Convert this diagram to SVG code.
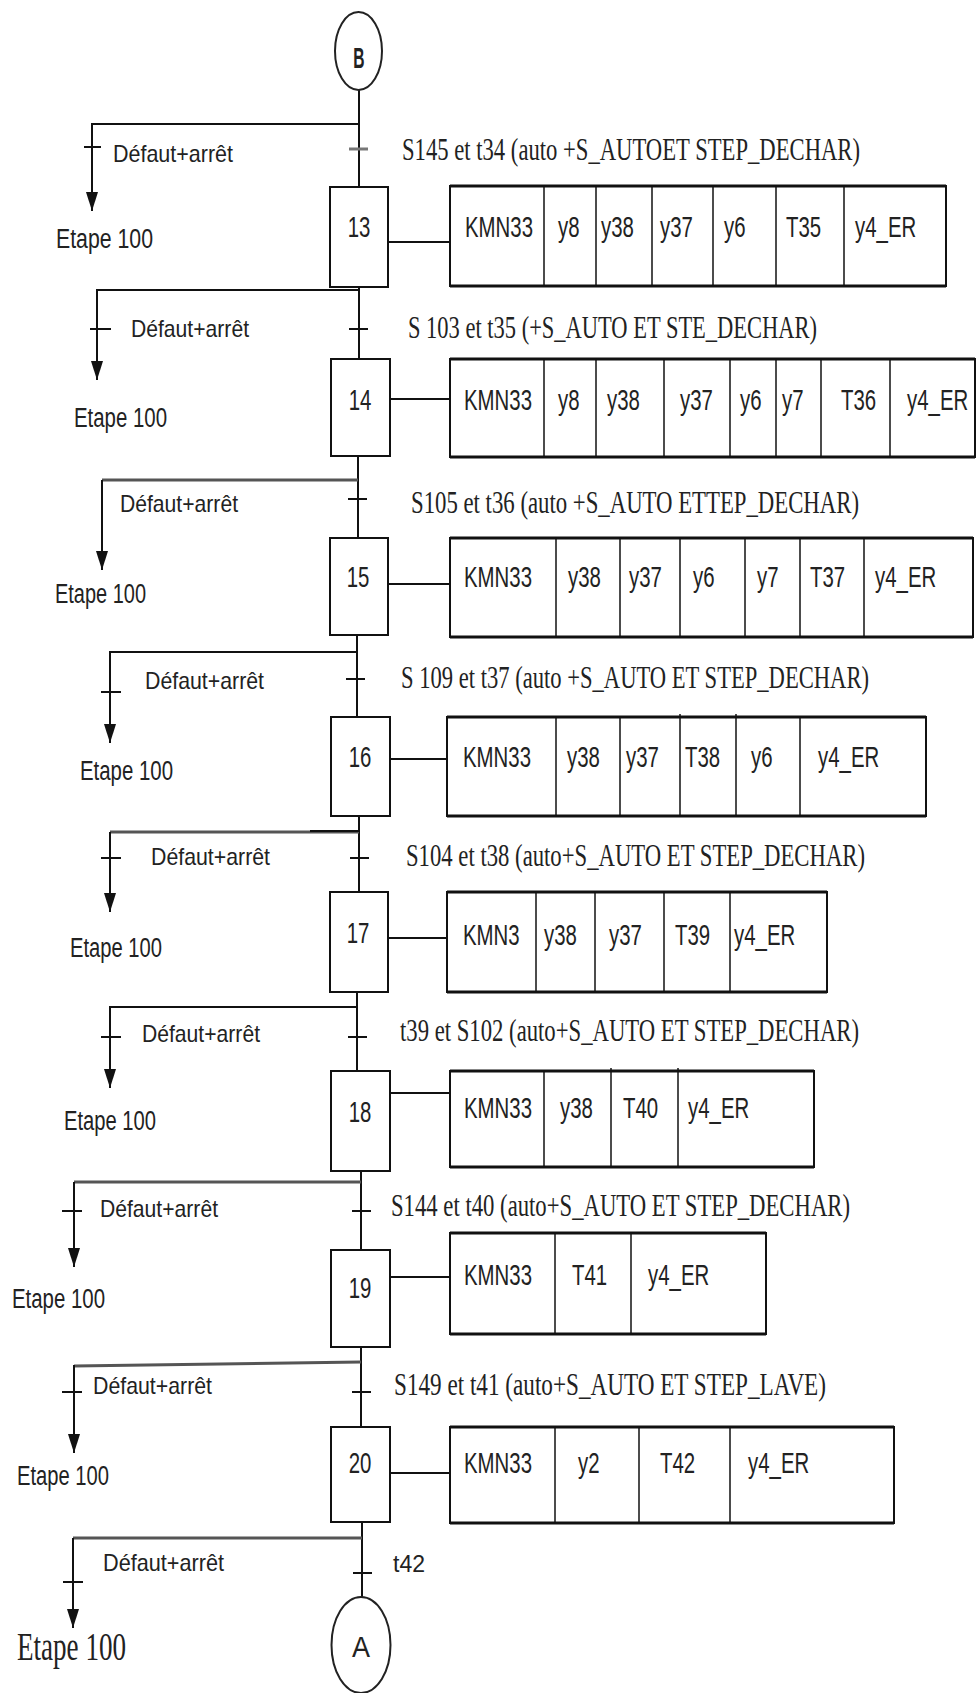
<svg xmlns="http://www.w3.org/2000/svg" width="977" height="1693" viewBox="0 0 977 1693">
<style>
.bg{fill:#fff}
.ln{stroke:#111;stroke-width:2;fill:none}
.gl{stroke:#555;stroke-width:3;fill:none}
.tk{stroke:#111;stroke-width:2}
.box{fill:#fff;stroke:#111;stroke-width:2}
.tb{fill:#fff;stroke:#111;stroke-width:2}
.tbh{stroke:#111;stroke-width:3}
.dv{stroke:#111;stroke-width:1.5}
.lbl{font-family:"Liberation Sans",Arial,sans-serif;font-size:30px;fill:#222}
.num{font-family:"Liberation Sans",Arial,sans-serif;font-size:30px;fill:#222;text-anchor:middle}
.df{font-family:"Liberation Sans",Arial,sans-serif;font-size:24px;fill:#222}
.et{font-family:"Liberation Sans",Arial,sans-serif;font-size:27px;fill:#222}
.cd{font-family:"Liberation Serif","Times New Roman",serif;font-size:24px;fill:#222}
.etS{font-family:"Liberation Serif","Times New Roman",serif;font-size:40px;fill:#222}
.cir{fill:#fff;stroke:#222;stroke-width:2}
</style>
<defs>
<marker id="arr" markerUnits="userSpaceOnUse" markerWidth="20" markerHeight="12" refX="19" refY="6" orient="auto" viewBox="0 0 20 12">
<path d="M0,0 L19,6 L0,12 Z" fill="#111"/>
</marker>
</defs>
<rect class="bg" x="0" y="0" width="977" height="1693"/>

<g id="connectors">
<line class="ln" x1="359" y1="90" x2="359" y2="187"/>
<line class="ln" x1="359" y1="287" x2="359" y2="359"/>
<line class="ln" x1="358" y1="456" x2="358" y2="538"/>
<line class="ln" x1="357" y1="635" x2="357" y2="717"/>
<line class="ln" x1="359" y1="816" x2="359" y2="892"/>
<line class="ln" x1="357" y1="992" x2="357" y2="1071"/>
<line class="ln" x1="361" y1="1171" x2="361" y2="1250"/>
<line class="ln" x1="361" y1="1347" x2="361" y2="1427"/>
<line class="ln" x1="362" y1="1522" x2="362" y2="1597"/>
<line stroke="#777" stroke-width="3" x1="349" y1="149" x2="368" y2="149"/>
<line class="tk" x1="349" y1="329" x2="368" y2="329"/>
<line class="tk" x1="348" y1="499" x2="367" y2="499"/>
<line class="tk" x1="346" y1="679" x2="365" y2="679"/>
<line class="tk" x1="350" y1="858" x2="369" y2="858"/>
<line class="tk" x1="348" y1="1037" x2="367" y2="1037"/>
<line class="tk" x1="352" y1="1211" x2="371" y2="1211"/>
<line class="tk" x1="352" y1="1392" x2="371" y2="1392"/>
<line class="tk" x1="353" y1="1573" x2="372" y2="1573"/>
<line class="ln" x1="388" y1="242" x2="450" y2="242"/>
<line class="ln" x1="390" y1="399" x2="450" y2="399"/>
<line class="ln" x1="388" y1="584" x2="450" y2="584"/>
<line class="ln" x1="390" y1="759" x2="447" y2="759"/>
<line class="ln" x1="388" y1="938" x2="447" y2="938"/>
<line class="ln" x1="390" y1="1093" x2="450" y2="1093"/>
<line class="ln" x1="390" y1="1277" x2="450" y2="1277"/>
<line class="ln" x1="390" y1="1473" x2="450" y2="1473"/>
<path class="ln" d="M359,124 H92 V211" marker-end="url(#arr)"/>
<line class="tk" x1="84" y1="147" x2="101" y2="147"/>
<path class="ln" stroke-width="3" d="M359,290 H97 V380" marker-end="url(#arr)"/>
<line class="tk" x1="90" y1="329" x2="111" y2="329"/>
<path class="gl" d="M358,480 H102"/>
<path class="ln" d="M102,480 V570" marker-end="url(#arr)"/>
<path class="ln" stroke-width="3" d="M357,652 H110 V743" marker-end="url(#arr)"/>
<line class="tk" x1="101" y1="692" x2="121" y2="692"/>
<path class="gl" d="M359,832 H110"/>
<path class="ln" d="M310,831 H359"/>
<path class="ln" d="M110,832 V912" marker-end="url(#arr)"/>
<line class="tk" x1="101" y1="858" x2="121" y2="858"/>
<path class="ln" stroke-width="3" d="M357,1007 H110 V1088" marker-end="url(#arr)"/>
<line class="tk" x1="101" y1="1037" x2="121" y2="1037"/>
<path class="gl" stroke-width="4" d="M361,1182 H74"/>
<path class="ln" d="M74,1182 V1267" marker-end="url(#arr)"/>
<line class="tk" x1="62" y1="1211" x2="82" y2="1211"/>
<path class="gl" d="M361,1362 L74,1366"/>
<path class="ln" d="M74,1365 V1453" marker-end="url(#arr)"/>
<line class="tk" x1="62" y1="1392" x2="82" y2="1392"/>
<path class="gl" d="M362,1538 H73"/>
<path class="ln" d="M73,1538 V1628" marker-end="url(#arr)"/>
<line class="tk" x1="63" y1="1582" x2="83" y2="1582"/>
</g>

<g id="circleB">
<ellipse class="cir" cx="358.5" cy="51" rx="23.5" ry="39"/>
<text class="num" font-weight="bold" transform="translate(359 68) scale(0.52 1)">B</text>
</g>

<g id="circleA">
<ellipse class="cir" cx="361" cy="1645" rx="29.5" ry="48"/>
<text class="num" font-size="26" transform="translate(361 1657) scale(0.9 1)">A</text>
</g>

<g id="labels">
<text class="cd" transform="translate(402 160) scale(1 1.333)" textLength="458" lengthAdjust="spacingAndGlyphs">S145 et t34 (auto +S_AUTOET STEP_DECHAR)</text>
<text class="cd" transform="translate(408 338) scale(1 1.333)" textLength="409" lengthAdjust="spacingAndGlyphs">S 103 et t35 (+S_AUTO ET STE_DECHAR)</text>
<text class="cd" transform="translate(411 513) scale(1 1.333)" textLength="448" lengthAdjust="spacingAndGlyphs">S105 et t36 (auto +S_AUTO ETTEP_DECHAR)</text>
<text class="cd" transform="translate(401 688) scale(1 1.333)" textLength="468" lengthAdjust="spacingAndGlyphs">S 109 et t37 (auto +S_AUTO ET STEP_DECHAR)</text>
<text class="cd" transform="translate(406 866) scale(1 1.333)" textLength="459" lengthAdjust="spacingAndGlyphs">S104 et t38 (auto+S_AUTO ET STEP_DECHAR)</text>
<text class="cd" transform="translate(400 1041) scale(1 1.333)" textLength="459" lengthAdjust="spacingAndGlyphs">t39 et S102 (auto+S_AUTO ET STEP_DECHAR)</text>
<text class="cd" transform="translate(391 1216) scale(1 1.333)" textLength="459" lengthAdjust="spacingAndGlyphs">S144 et t40 (auto+S_AUTO ET STEP_DECHAR)</text>
<text class="cd" transform="translate(394 1395) scale(1 1.333)" textLength="432" lengthAdjust="spacingAndGlyphs">S149 et t41 (auto+S_AUTO ET STEP_LAVE)</text>
<text class="df" x="393" y="1572" font-size="21" textLength="32" lengthAdjust="spacingAndGlyphs">t42</text>

<text class="df" x="113" y="162" textLength="120" lengthAdjust="spacingAndGlyphs">Défaut+arrêt</text>
<text class="df" x="131" y="337" textLength="118" lengthAdjust="spacingAndGlyphs">Défaut+arrêt</text>
<text class="df" x="120" y="512" textLength="118" lengthAdjust="spacingAndGlyphs">Défaut+arrêt</text>
<text class="df" x="145" y="689" textLength="119" lengthAdjust="spacingAndGlyphs">Défaut+arrêt</text>
<text class="df" x="151" y="865" textLength="119" lengthAdjust="spacingAndGlyphs">Défaut+arrêt</text>
<text class="df" x="142" y="1042" textLength="118" lengthAdjust="spacingAndGlyphs">Défaut+arrêt</text>
<text class="df" x="100" y="1217" textLength="118" lengthAdjust="spacingAndGlyphs">Défaut+arrêt</text>
<text class="df" x="93" y="1394" textLength="119" lengthAdjust="spacingAndGlyphs">Défaut+arrêt</text>
<text class="df" x="103" y="1571" textLength="121" lengthAdjust="spacingAndGlyphs">Défaut+arrêt</text>

<text class="et" x="56" y="248" textLength="97" lengthAdjust="spacingAndGlyphs">Etape 100</text>
<text class="et" x="74" y="427" textLength="93" lengthAdjust="spacingAndGlyphs">Etape 100</text>
<text class="et" x="55" y="603" textLength="91" lengthAdjust="spacingAndGlyphs">Etape 100</text>
<text class="et" x="80" y="780" textLength="93" lengthAdjust="spacingAndGlyphs">Etape 100</text>
<text class="et" x="70" y="957" textLength="92" lengthAdjust="spacingAndGlyphs">Etape 100</text>
<text class="et" x="64" y="1130" textLength="92" lengthAdjust="spacingAndGlyphs">Etape 100</text>
<text class="et" x="12" y="1308" textLength="93" lengthAdjust="spacingAndGlyphs">Etape 100</text>
<text class="et" x="17" y="1485" textLength="92" lengthAdjust="spacingAndGlyphs">Etape 100</text>
<text class="etS" x="17" y="1660" textLength="109" lengthAdjust="spacingAndGlyphs">Etape 100</text>
</g>

<g id="step13">
<rect class="box" x="330" y="187" width="58" height="100"/>
<text class="num" transform="translate(359 237) scale(0.68 1)">13</text>
</g>
<g id="actions13">
<rect class="tb" x="450" y="186" width="496" height="100"/>
<line class="tbh" x1="450" y1="186" x2="946" y2="186"/><line class="tbh" x1="450" y1="286" x2="946" y2="286"/>
<line class="dv" x1="544" y1="186" x2="544" y2="286"/><line class="dv" x1="596" y1="186" x2="596" y2="286"/><line class="dv" x1="652" y1="186" x2="652" y2="286"/><line class="dv" x1="713" y1="186" x2="713" y2="286"/><line class="dv" x1="776" y1="186" x2="776" y2="286"/><line class="dv" x1="844" y1="186" x2="844" y2="286"/>
<text class="lbl" transform="translate(465 237) scale(0.68 1)">KMN33</text>
<text class="lbl" transform="translate(558 237) scale(0.68 1)">y8</text>
<text class="lbl" transform="translate(601 237) scale(0.68 1)">y38</text>
<text class="lbl" transform="translate(660 237) scale(0.68 1)">y37</text>
<text class="lbl" transform="translate(724 237) scale(0.68 1)">y6</text>
<text class="lbl" transform="translate(786 237) scale(0.68 1)">T35</text>
<text class="lbl" transform="translate(855 237) scale(0.68 1)">y4_ER</text>
</g>

<g id="step14">
<rect class="box" x="331" y="359" width="59" height="97"/>
<text class="num" transform="translate(360 410) scale(0.68 1)">14</text>
</g>
<g id="actions14">
<rect class="tb" x="450" y="359" width="525" height="98"/>
<line class="tbh" x1="450" y1="359" x2="975" y2="359"/><line class="tbh" x1="450" y1="457" x2="975" y2="457"/>
<line class="dv" x1="544" y1="359" x2="544" y2="457"/><line class="dv" x1="596" y1="359" x2="596" y2="457"/><line class="dv" x1="664" y1="359" x2="664" y2="457"/><line class="dv" x1="730" y1="359" x2="730" y2="457"/><line class="dv" x1="776" y1="359" x2="776" y2="457"/><line class="dv" x1="821" y1="359" x2="821" y2="457"/><line class="dv" x1="890" y1="359" x2="890" y2="457"/>
<text class="lbl" transform="translate(464 410) scale(0.68 1)">KMN33</text>
<text class="lbl" transform="translate(558 410) scale(0.68 1)">y8</text>
<text class="lbl" transform="translate(607 410) scale(0.68 1)">y38</text>
<text class="lbl" transform="translate(680 410) scale(0.68 1)">y37</text>
<text class="lbl" transform="translate(740 410) scale(0.68 1)">y6</text>
<text class="lbl" transform="translate(782 410) scale(0.68 1)">y7</text>
<text class="lbl" transform="translate(841 410) scale(0.68 1)">T36</text>
<text class="lbl" transform="translate(907 410) scale(0.68 1)">y4_ER</text>
</g>

<g id="step15">
<rect class="box" x="330" y="538" width="58" height="97"/>
<text class="num" transform="translate(358 587) scale(0.68 1)">15</text>
</g>
<g id="actions15">
<rect class="tb" x="450" y="538" width="523" height="99"/>
<line class="tbh" x1="450" y1="538" x2="973" y2="538"/><line class="tbh" x1="450" y1="637" x2="973" y2="637"/>
<line class="dv" x1="556" y1="538" x2="556" y2="637"/><line class="dv" x1="620" y1="538" x2="620" y2="637"/><line class="dv" x1="680" y1="538" x2="680" y2="637"/><line class="dv" x1="745" y1="538" x2="745" y2="637"/><line class="dv" x1="800" y1="538" x2="800" y2="637"/><line class="dv" x1="864" y1="538" x2="864" y2="637"/>
<text class="lbl" transform="translate(464 587) scale(0.68 1)">KMN33</text>
<text class="lbl" transform="translate(568 587) scale(0.68 1)">y38</text>
<text class="lbl" transform="translate(629 587) scale(0.68 1)">y37</text>
<text class="lbl" transform="translate(693 587) scale(0.68 1)">y6</text>
<text class="lbl" transform="translate(757 587) scale(0.68 1)">y7</text>
<text class="lbl" transform="translate(810 587) scale(0.68 1)">T37</text>
<text class="lbl" transform="translate(875 587) scale(0.68 1)">y4_ER</text>
</g>

<g id="step16">
<rect class="box" x="331" y="717" width="59" height="99"/>
<text class="num" transform="translate(360 767) scale(0.68 1)">16</text>
</g>
<g id="actions16">
<rect class="tb" x="447" y="717" width="479" height="99"/>
<line class="tbh" x1="447" y1="717" x2="926" y2="717"/><line class="tbh" x1="447" y1="816" x2="926" y2="816"/>
<line class="dv" x1="556" y1="717" x2="556" y2="816"/><line class="dv" x1="620" y1="717" x2="620" y2="816"/><line class="dv" x1="680" y1="714" x2="680" y2="816"/><line class="dv" x1="736" y1="714" x2="736" y2="816"/><line class="dv" x1="800" y1="717" x2="800" y2="816"/>
<text class="lbl" transform="translate(463 767) scale(0.68 1)">KMN33</text>
<text class="lbl" transform="translate(567 767) scale(0.68 1)">y38</text>
<text class="lbl" transform="translate(626 767) scale(0.68 1)">y37</text>
<text class="lbl" transform="translate(685 767) scale(0.68 1)">T38</text>
<text class="lbl" transform="translate(751 767) scale(0.68 1)">y6</text>
<text class="lbl" transform="translate(818 767) scale(0.68 1)">y4_ER</text>
</g>

<g id="step17">
<rect class="box" x="330" y="892" width="58" height="100"/>
<text class="num" transform="translate(358 943) scale(0.68 1)">17</text>
</g>
<g id="actions17">
<rect class="tb" x="447" y="892" width="380" height="100"/>
<line class="tbh" x1="447" y1="892" x2="827" y2="892"/><line class="tbh" x1="447" y1="992" x2="827" y2="992"/>
<line class="dv" x1="536" y1="892" x2="536" y2="992"/><line class="dv" x1="595" y1="892" x2="595" y2="992"/><line class="dv" x1="664" y1="892" x2="664" y2="992"/><line class="dv" x1="730" y1="892" x2="730" y2="992"/>
<text class="lbl" transform="translate(463 945) scale(0.68 1)">KMN3</text>
<text class="lbl" transform="translate(544 945) scale(0.68 1)">y38</text>
<text class="lbl" transform="translate(609 945) scale(0.68 1)">y37</text>
<text class="lbl" transform="translate(675 945) scale(0.68 1)">T39</text>
<text class="lbl" transform="translate(734 945) scale(0.68 1)">y4_ER</text>
</g>

<g id="step18">
<rect class="box" x="331" y="1071" width="59" height="100"/>
<text class="num" transform="translate(360 1122) scale(0.68 1)">18</text>
</g>
<g id="actions18">
<rect class="tb" x="450" y="1071" width="364" height="96"/>
<line class="tbh" x1="450" y1="1071" x2="814" y2="1071"/><line class="tbh" x1="450" y1="1167" x2="814" y2="1167"/>
<line class="dv" x1="544" y1="1071" x2="544" y2="1167"/><line class="dv" x1="611" y1="1068" x2="611" y2="1167"/><line class="dv" x1="678" y1="1068" x2="678" y2="1167"/>
<text class="lbl" transform="translate(464 1118) scale(0.68 1)">KMN33</text>
<text class="lbl" transform="translate(560 1118) scale(0.68 1)">y38</text>
<text class="lbl" transform="translate(623 1118) scale(0.68 1)">T40</text>
<text class="lbl" transform="translate(688 1118) scale(0.68 1)">y4_ER</text>
</g>

<g id="step19">
<rect class="box" x="331" y="1250" width="59" height="97"/>
<text class="num" transform="translate(360 1298) scale(0.68 1)">19</text>
</g>
<g id="actions19">
<rect class="tb" x="450" y="1233" width="316" height="101"/>
<line class="tbh" x1="450" y1="1233" x2="766" y2="1233"/><line class="tbh" x1="450" y1="1334" x2="766" y2="1334"/>
<line class="dv" x1="555" y1="1233" x2="555" y2="1334"/><line class="dv" x1="631" y1="1233" x2="631" y2="1334"/>
<text class="lbl" transform="translate(464 1285) scale(0.68 1)">KMN33</text>
<text class="lbl" transform="translate(572 1285) scale(0.68 1)">T41</text>
<text class="lbl" transform="translate(648 1285) scale(0.68 1)">y4_ER</text>
</g>

<g id="step20">
<rect class="box" x="331" y="1427" width="59" height="95"/>
<text class="num" transform="translate(360 1473) scale(0.68 1)">20</text>
</g>
<g id="actions20">
<rect class="tb" x="450" y="1427" width="444" height="96"/>
<line class="tbh" x1="450" y1="1427" x2="894" y2="1427"/><line class="tbh" x1="450" y1="1523" x2="894" y2="1523"/>
<line class="dv" x1="555" y1="1427" x2="555" y2="1523"/><line class="dv" x1="639" y1="1427" x2="639" y2="1523"/><line class="dv" x1="730" y1="1427" x2="730" y2="1523"/>
<text class="lbl" transform="translate(464 1473) scale(0.68 1)">KMN33</text>
<text class="lbl" transform="translate(578 1473) scale(0.68 1)">y2</text>
<text class="lbl" transform="translate(660 1473) scale(0.68 1)">T42</text>
<text class="lbl" transform="translate(748 1473) scale(0.68 1)">y4_ER</text>
</g>
</svg>
